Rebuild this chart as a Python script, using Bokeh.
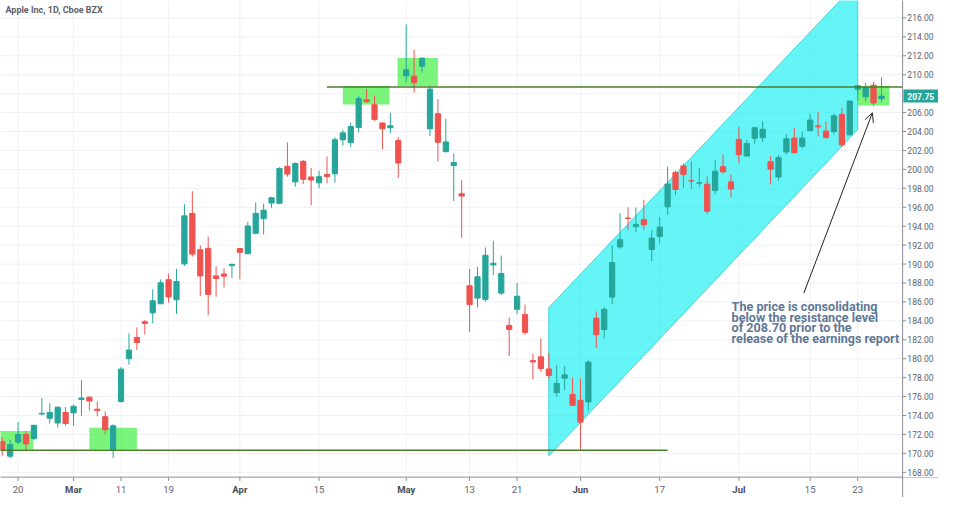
from bokeh.plotting import figure
from bokeh.models import Range1d, Arrow, OpenHead, ColumnDataSource
from bokeh.core.properties import value
from bokeh.embed import file_html
from bokeh.resources import INLINE

# ---- data (Apple Inc, daily, 15 Feb - 26 Jul 2019), bar index 0..111 ----
opens = [171.25, 169.71, 171.2, 172.0, 171.58, 174.16, 173.71, 173.21, 174.32, 174.28,
         175.69, 175.94, 174.67, 173.87, 170.32, 175.49, 180.0, 182.25, 183.9, 184.85,
         185.8, 188.35, 186.23, 190.02, 195.34, 191.51, 191.66, 188.75, 188.95, 189.83,
         191.64, 191.09, 193.25, 194.79, 196.45, 196.42, 200.32, 198.68, 200.85, 199.2,
         198.58, 199.46, 199.54, 203.12, 202.83, 204.43, 207.36, 206.83, 204.9, 204.4,
         203.06, 209.88, 209.84, 210.89, 204.29, 205.88, 201.9, 200.4, 197.42, 187.71,
         186.41, 186.27, 189.91, 186.93, 183.52, 185.22, 184.66, 179.8, 180.2, 178.92,
         176.42, 177.95, 176.23, 175.6, 175.44, 184.28, 183.08, 186.51, 191.81, 194.86,
         193.95, 194.7, 191.55, 192.9, 196.05, 199.68, 200.37, 198.8, 198.54, 198.43,
         197.77, 200.29, 198.68, 203.17, 201.41, 203.28, 203.35, 200.81, 199.2, 201.85,
         203.31, 202.45, 204.09, 204.59, 204.05, 204.0, 205.79, 203.65, 208.46, 207.67,
         208.89, 207.48]
highs = [171.70, 171.44, 173.32, 172.37, 173.00, 175.87, 175.30, 175.00, 174.91, 175.15,
         177.75, 176.00, 175.49, 174.44, 173.07, 179.12, 182.67, 183.30, 184.10, 187.33,
         188.39, 188.99, 189.49, 196.33, 197.69, 191.98, 192.88, 189.76, 189.56, 190.08,
         191.68, 194.46, 196.50, 196.37, 197.10, 200.23, 202.85, 200.74, 201.00, 200.14,
         199.85, 201.37, 203.38, 204.15, 204.94, 207.75, 208.48, 207.76, 205.00, 205.97,
         203.40, 215.31, 212.65, 211.84, 208.84, 207.42, 205.34, 201.68, 198.85, 189.48,
         189.70, 191.75, 192.47, 190.90, 184.35, 188.00, 185.71, 180.54, 182.14, 180.59,
         179.35, 179.23, 177.99, 177.92, 179.83, 184.99, 185.47, 191.92, 195.37, 196.00,
         195.97, 196.79, 193.59, 194.96, 200.29, 199.88, 200.61, 200.85, 200.16, 199.26,
         200.99, 201.57, 199.49, 204.49, 203.13, 204.44, 205.08, 201.40, 201.51, 203.73,
         204.39, 204.00, 205.87, 206.11, 205.09, 205.88, 206.50, 207.23, 208.91, 209.15,
         209.24, 209.73]
lows = [169.75, 169.49, 170.99, 170.30, 171.38, 174.00, 173.17, 172.73, 172.92, 172.89,
        173.97, 174.54, 173.94, 172.02, 169.50, 175.35, 179.37, 180.92, 182.56, 183.74,
        185.79, 185.92, 184.73, 189.81, 190.78, 186.60, 184.58, 186.55, 187.53, 188.54,
        188.38, 191.05, 193.15, 193.14, 195.93, 196.34, 199.23, 198.18, 198.44, 196.21,
        198.01, 198.56, 198.61, 202.52, 202.34, 203.90, 207.05, 205.12, 202.12, 203.86,
        199.11, 209.23, 208.13, 210.23, 203.50, 200.83, 201.75, 196.66, 192.77, 182.85,
        185.41, 186.02, 188.84, 186.76, 180.28, 184.70, 182.55, 177.81, 178.62, 177.91,
        176.00, 176.67, 174.99, 170.27, 174.52, 181.14, 182.15, 185.77, 191.62, 193.60,
        193.39, 193.60, 190.30, 192.17, 195.21, 197.31, 198.03, 197.90, 198.17, 195.29,
        197.35, 199.57, 197.05, 200.65, 201.36, 202.69, 202.90, 198.41, 198.81, 201.56,
        201.71, 202.20, 204.00, 203.50, 203.27, 203.70, 202.36, 203.61, 207.29, 207.17,
        206.73, 207.14]
closes = [170.42, 170.93, 172.0, 171.0, 172.97, 174.23, 174.33, 174.87, 173.15, 174.97,
          175.85, 175.53, 174.52, 172.50, 172.91, 178.90, 180.91, 181.71, 183.73, 186.12,
          188.02, 186.53, 188.16, 195.09, 191.05, 188.74, 186.79, 188.47, 188.72, 189.95,
          191.24, 194.02, 195.35, 195.69, 197.00, 200.10, 199.50, 200.62, 198.95, 198.87,
          199.23, 199.25, 203.13, 203.86, 204.53, 207.48, 207.16, 205.28, 204.30, 204.61,
          200.67, 210.52, 209.15, 211.75, 208.48, 202.86, 202.90, 200.72, 197.18, 185.72,
          188.66, 190.92, 190.08, 189.00, 183.09, 186.60, 182.78, 179.66, 178.97, 178.23,
          177.38, 178.30, 175.07, 173.30, 179.64, 182.54, 185.22, 190.15, 192.58, 194.81,
          194.19, 194.15, 192.74, 193.89, 198.45, 197.87, 199.46, 198.78, 198.58, 195.57,
          199.80, 199.74, 197.92, 201.55, 202.73, 204.41, 204.23, 200.02, 201.24, 203.23,
          201.75, 203.30, 205.21, 204.50, 203.35, 205.66, 202.59, 207.22, 208.84, 208.67,
          207.02, 207.74]

x_tick_idx = [2, 9, 15, 21, 30, 40, 51, 59, 65, 73, 83, 93, 102, 108]
x_tick_labels = ["20", "Mar", "11", "19", "Apr", "15", "May", "13", "21", "Jun", "17", "Jul", "15", "23"]
price_ticks = [168, 170, 172, 174, 176, 178, 180, 182, 184, 186, 188, 190, 192,
               194, 196, 198, 200, 202, 204, 206, 208, 210, 212, 214, 216]
last_price = 207.75
resistance = 208.70
support = 170.32

# drawing annotations (data coordinates)
zone_left = [-1.0, 11.0, 43.0, 49.9, 108.0]
zone_right = [3.9, 17.0, 48.9, 55.0, 112.0]
zone_top = [172.37, 172.70, 208.80, 211.77, 208.80]
zone_bottom = [170.42, 170.42, 206.85, 208.80, 206.75]
channel_x = [69.0, 108.0, 108.0, 69.0]
channel_y = [169.73, 204.22, 219.80, 185.40]
note_lines = ["The price is consolidating", "below the resistance level",
              "of 208.70 prior to the", "release of the earnings report"]
note_y = [185.51, 184.38, 183.26, 182.13]

TEAL = "#26a69a"
RED = "#ef5350"
AXIS = "#8a8d96"
GRID = "#eef1f6"
LBL = "#5d606b"

n = len(opens)
idx = list(range(n))
colors = [TEAL if c >= o else RED for o, c in zip(opens, closes)]
tops = [max(o, c) for o, c in zip(opens, closes)]
bots = [min(o, c) for o, c in zip(opens, closes)]
src = ColumnDataSource(dict(x=idx, o=opens, h=highs, l=lows, c=closes, top=tops, bot=bots, color=colors))

X0, X1, XR = -0.22, 113.67, 118.2     # left edge, price-scale line, right edge
YB, Y0, Y1 = 165.34, 167.49, 217.84   # bottom edge, time-scale line, top edge

p = figure(width=938, height=497, output_backend="svg", toolbar_location=None,
           x_range=Range1d(X0, XR), y_range=Range1d(YB, Y1),
           x_axis_location=None, y_axis_location=None,
           min_border_left=0, min_border_top=0, min_border_right=0, min_border_bottom=0)
p.outline_line_color = None
p.background_fill_color = "white"
p.xgrid.visible = False
p.ygrid.visible = False

# grid (stops at the scales)
p.segment(x0=[X0] * len(price_ticks), y0=price_ticks, x1=[X1] * len(price_ticks), y1=price_ticks,
          line_color=GRID, line_width=1)
p.segment(x0=x_tick_idx, y0=[Y0] * len(x_tick_idx), x1=x_tick_idx, y1=[Y1 + 1] * len(x_tick_idx),
          line_color=GRID, line_width=1)

# channel
p.patch(channel_x, channel_y, fill_color="#00eef2", fill_alpha=0.6,
        line_color="#3fd6dc", line_width=1)

# green zones
p.quad(left=zone_left, right=zone_right, top=zone_top, bottom=zone_bottom,
       fill_color="#33ee33", fill_alpha=0.65, line_color=None)

# candles
p.segment(x0="x", y0="h", x1="x", y1="l", color="color", line_width=1, source=src)
p.vbar(x="x", width=0.66, top="top", bottom="bot", fill_color="color", line_color="color",
       line_width=1, source=src)

# support / resistance
p.line([41, X1], [resistance, resistance], line_color="#4a7c2a", line_width=1.5)
p.line([-1, 84], [support, support], line_color="#4a7c2a", line_width=1.5)

# arrow
p.add_layout(Arrow(end=OpenHead(size=9, line_color="#222222", line_width=1),
                   x_start=101.2, y_start=186.93, x_end=109.85, y_end=205.97,
                   line_color="#222222", line_width=1))

# note
p.text(x=[92.08] * 4, y=note_y, text=note_lines, text_font=value("Roboto"),
       text_font_style="bold", text_font_size="12.6px", text_color="#5f7896",
       text_baseline="middle", text_align="left")

# title
p.text(x=[0.4], y=[216.8], text=["Apple Inc, 1D, Cboe BZX"], text_font=value("Roboto"),
       text_font_size="9px", text_font_style="bold", text_color=LBL,
       text_baseline="middle", text_align="left")

# time scale (bottom)
p.quad(left=[X0 - 1], right=[XR + 1], top=[Y0], bottom=[YB - 1], fill_color="white", line_color=None)
p.segment(x0=[X0 - 1], y0=[Y0], x1=[XR + 1], y1=[Y0], line_color=AXIS, line_width=1)
p.segment(x0=x_tick_idx, y0=[Y0] * len(x_tick_idx), x1=x_tick_idx, y1=[Y0 - 0.4] * len(x_tick_idx),
          line_color=AXIS, line_width=1)
is_month = [not t.isdigit() for t in x_tick_labels]
p.text(x=[i for i, m in zip(x_tick_idx, is_month) if not m], y=[166.2] * (len(x_tick_idx) - sum(is_month)),
       text=[t for t, m in zip(x_tick_labels, is_month) if not m], text_font=value("Roboto"),
       text_font_size="9.5px", text_color=LBL, text_baseline="middle", text_align="center")
p.text(x=[i for i, m in zip(x_tick_idx, is_month) if m], y=[166.2] * sum(is_month),
       text=[t for t, m in zip(x_tick_labels, is_month) if m], text_font=value("Roboto"),
       text_font_size="9.5px", text_font_style="bold", text_color="#4a4d57",
       text_baseline="middle", text_align="center")

# price scale (right)
p.quad(left=[X1], right=[XR + 1], top=[Y1 + 1], bottom=[Y0], fill_color="white", line_color=None)
p.segment(x0=[X1], y0=[YB - 1], x1=[X1], y1=[Y1 + 1], line_color=AXIS, line_width=1)
shown = [t for t in price_ticks if t != 208]
p.segment(x0=[X1] * len(shown), y0=shown, x1=[X1 + 0.45] * len(shown), y1=shown,
          line_color=AXIS, line_width=1)
p.text(x=[X1 + 0.6] * len(shown), y=shown, text=[f"{t:.2f}" for t in shown],
       text_font=value("Roboto"), text_font_size="8.5px", text_color=LBL,
       text_baseline="middle", text_align="left")
p.quad(left=[X1 + 0.1], right=[XR + 1], top=[last_price + 0.68], bottom=[last_price - 0.68],
       fill_color=TEAL, line_color=None)
p.text(x=[X1 + 0.6], y=[last_price], text=[f"{last_price:.2f}"], text_font=value("Roboto"),
       text_font_size="8.5px", text_font_style="bold", text_color="white",
       text_baseline="middle", text_align="left")

open("out.html", "w").write(file_html(p, INLINE))
